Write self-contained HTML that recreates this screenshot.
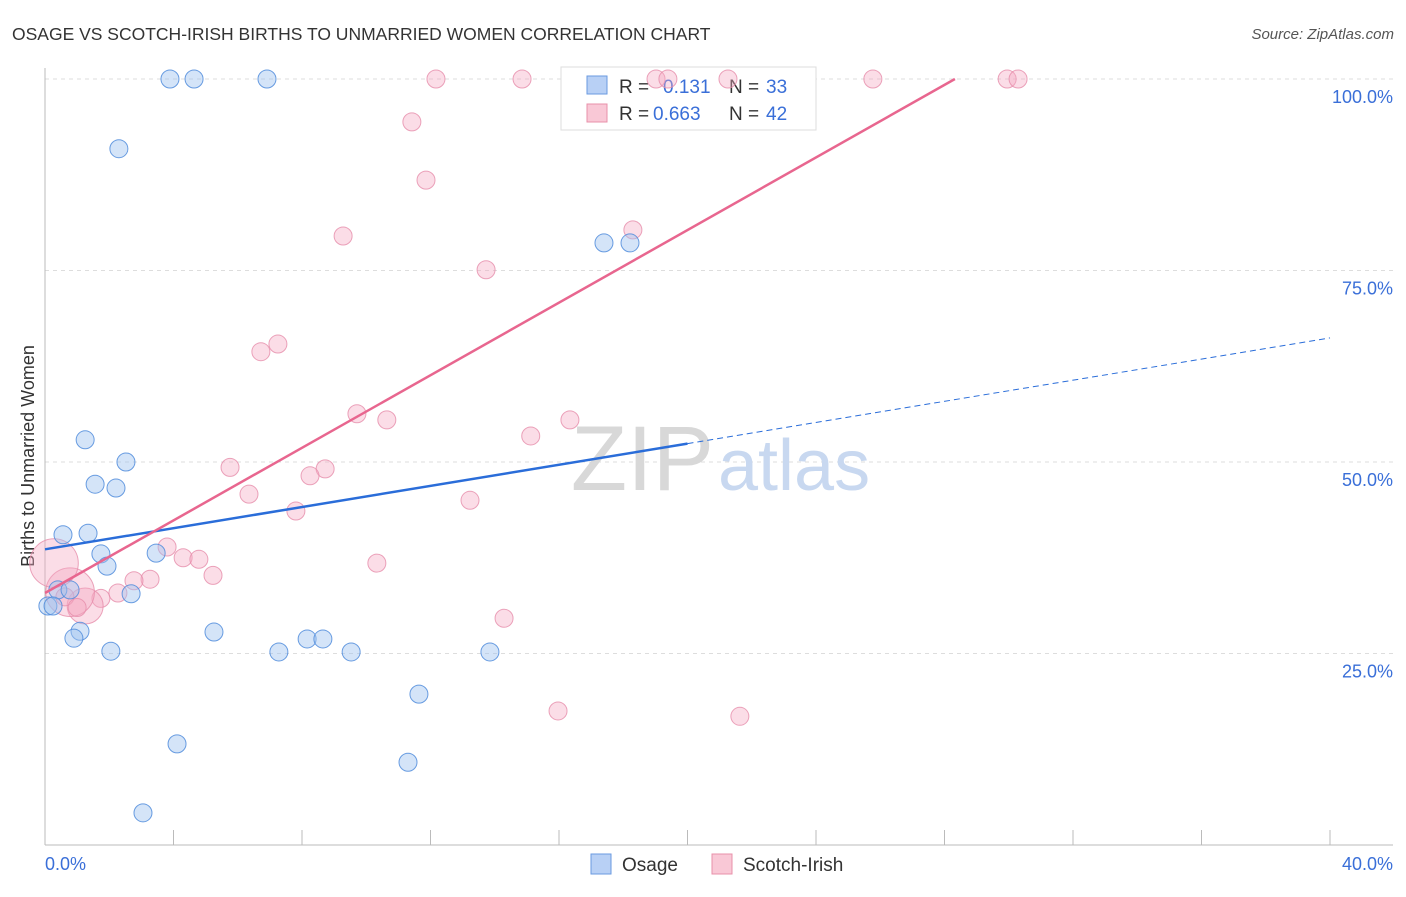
<!DOCTYPE html>
<html><head><meta charset="utf-8"><style>
body{margin:0;background:#fff;font-family:"Liberation Sans",sans-serif}
svg text{font-family:"Liberation Sans",sans-serif}
</style></head><body>
<svg width="1406" height="892">
<text x="12" y="40" font-size="17.5" fill="#333">OSAGE VS SCOTCH-IRISH BIRTHS TO UNMARRIED WOMEN CORRELATION CHART</text>
<text x="1394" y="39" font-size="15" fill="#555" text-anchor="end" font-style="italic">Source: ZipAtlas.com</text>
<g id="grid"></g>
<text x="714" y="490" font-size="92" font-family="Liberation Serif" fill="#d8d8d8" text-anchor="end">ZIP</text>
<text x="718" y="490" font-size="72" fill="#c8d8f0">atlas</text>
<text transform="translate(34,456) rotate(-90)" font-size="18" fill="#333" text-anchor="middle">Births to Unmarried Women</text>
<g>
<rect x="561" y="67" width="255" height="63" fill="#fff" stroke="#ddd"/>
<rect x="587" y="76" width="20" height="18" fill="#b8d0f5" stroke="#6a9ae0"/>
<text x="619" y="93" font-size="19" fill="#333">R = </text><text x="663" y="93" font-size="19" fill="#3a6fd8">0.131</text>
<text x="729" y="93" font-size="19" fill="#333">N = </text><text x="766" y="93" font-size="19" fill="#3a6fd8">33</text>
<rect x="587" y="104" width="20" height="18" fill="#f9c8d6" stroke="#e890aa"/>
<text x="619" y="120" font-size="19" fill="#333">R = </text><text x="653" y="120" font-size="19" fill="#3a6fd8">0.663</text>
<text x="729" y="120" font-size="19" fill="#333">N = </text><text x="766" y="120" font-size="19" fill="#3a6fd8">42</text>
</g>
<g id="marks"></g>
<g>
<rect x="591" y="854" width="20" height="20" fill="#b8d0f5" stroke="#6a9ae0"/>
<text x="622" y="871" font-size="19" fill="#333">Osage</text>
<rect x="712" y="854" width="20" height="20" fill="#f9c8d6" stroke="#e890aa"/>
<text x="743" y="871" font-size="19" fill="#333">Scotch-Irish</text>
</g>
</svg>
<script>
const xTicks=[0,5,10,15,20,25,30,35,40];
const yTicks=[25,50,75,100];
const osageX=[3.89,4.64,6.91,2.30,17.40,18.21,1.25,2.52,1.56,2.21,0.56,1.34,1.74,3.46,1.93,0.40,0.78,2.68,0.09,0.25,1.09,0.90,2.05,5.26,7.28,8.16,8.65,9.53,13.85,11.64,4.11,11.30,3.05];
const osageY=[100,100,100,90.9,78.6,78.6,52.9,50,47.1,46.6,40.5,40.7,38.0,38.1,36.4,33.3,33.3,32.8,31.2,31.2,27.9,27.0,25.3,27.8,25.2,26.9,26.9,25.2,25.2,19.7,13.2,10.8,4.2];
const scotX=[12.17,14.85,19.02,19.39,21.26,25.77,29.95,30.29,11.42,11.86,9.28,18.30,13.73,6.72,7.25,9.71,10.64,16.34,15.12,5.76,8.72,8.25,6.35,13.23,7.81,3.80,4.30,4.79,10.33,5.23,3.27,2.77,2.27,1.74,1.25,0.78,0.28,14.29,15.97,21.63,0.62,1.0];
const scotY=[100,100,100,100,100,100,100,100,94.4,86.8,79.5,80.3,75.1,64.4,65.4,56.3,55.5,55.5,53.4,49.3,49.1,48.2,45.8,45.0,43.6,38.9,37.5,37.3,36.8,35.2,34.7,34.5,32.9,32.2,31.2,33.0,36.8,29.6,17.5,16.8,32.4,31.0];
const scotSize=[1,1,1,1,1,1,1,1,1,1,1,1,1,1,1,1,1,1,1,1,1,1,1,1,1,1,1,1,1,1,1,1,1,1,2,2.7,2.7,1,1,1,1,1];
const blueLine=[38.6,66.2];
const pinkLine=[32.9,2.369];
const X=v=>45+v/40*1285, Y=v=>845-v/100*766;
const NS='http://www.w3.org/2000/svg';
function mk(t,a,p){const e=document.createElementNS(NS,t);for(const k in a)e.setAttribute(k,a[k]);p.appendChild(e);return e;}
const g=document.getElementById('grid'), m=document.getElementById('marks');
yTicks.forEach(t=>{
 const l=mk('line',{x1:45,x2:1393,y1:Y(t),y2:Y(t),stroke:'#ddd','stroke-dasharray':'4,4'},g);
 
 
 const tx=mk('text',{x:1393,y:Y(t)+24,'font-size':18,fill:'#3a6fd8','text-anchor':'end'},g);tx.textContent=t.toFixed(1)+'%';
 
 
});
const ax=mk('line',{x1:45,x2:45,y1:68,y2:845,stroke:'#bbb'},g);


const bx=mk('line',{x1:45,x2:1393,y1:845,y2:845,stroke:'#bbb'},g);


for(let i=0;i<=10;i++){const t=mk('line',{x1:X(i*4),x2:X(i*4),y1:830,y2:845,stroke:'#bbb'},g);
 
 }
[[0,'start',45],[40,'end',1393]].forEach(([v,a,px])=>{const t=mk('text',{x:px,y:870,'font-size':18,fill:'#3a6fd8','text-anchor':a},g);t.textContent=v.toFixed(1)+'%';
 
 });
scotX.forEach((x,i)=>{const c=mk('circle',{cx:X(x),cy:Y(scotY[i]),r:9*scotSize[i],fill:'rgba(245,170,195,0.4)',stroke:'rgba(230,140,170,0.8)','stroke-width':1},m);
 
 });
osageX.forEach((x,i)=>{const c=mk('circle',{cx:X(x),cy:Y(osageY[i]),r:9,fill:'rgba(160,195,240,0.45)',stroke:'rgba(80,140,220,0.85)','stroke-width':1},m);
 
 });
const by=x=>blueLine[0]+(blueLine[1]-blueLine[0])*x/40;
const b1=mk('line',{x1:X(0),y1:Y(by(0)),x2:X(20),y2:Y(by(20)),stroke:'#2a6dd9','stroke-width':2.5},m);


const b2=mk('line',{x1:X(20),y1:Y(by(20)),x2:X(40),y2:Y(by(40)),stroke:'#2a6dd9','stroke-width':1,'stroke-dasharray':'6,4'},m);


const xe=(100-pinkLine[0])/pinkLine[1];
const p1=mk('line',{x1:X(0),y1:Y(pinkLine[0]),x2:X(xe),y2:Y(100),stroke:'#e8668f','stroke-width':2.5},m);


</script>
</body></html>
